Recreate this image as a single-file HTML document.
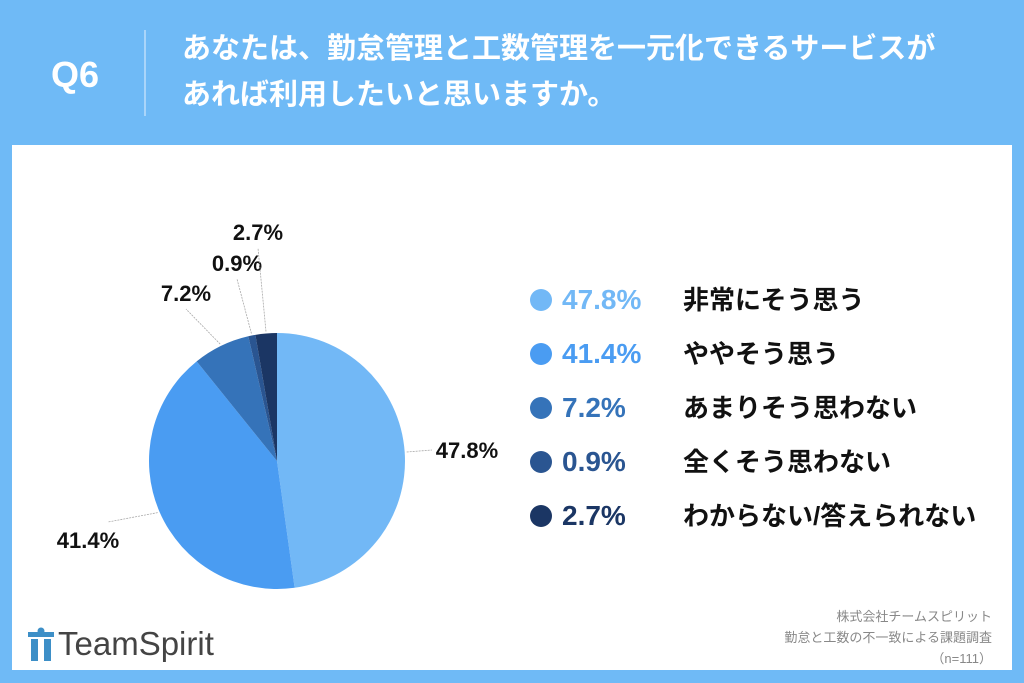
<!DOCTYPE html>
<html><head><meta charset="utf-8"><style>
body{margin:0;width:1024px;height:683px;background:#6fbaf6;font-family:"Liberation Sans","Noto Sans CJK JP",sans-serif;position:relative;overflow:hidden}
.abs{position:absolute}
#panel{left:12px;top:145px;width:1000px;height:525px;background:#fff}
.leg{left:530px;font-size:27px;font-weight:bold;height:30px;line-height:30px}
.leg .dot{position:absolute;left:0;top:4px;width:22px;height:22px;border-radius:50%}
.leg .pct{position:absolute;left:32px;font-size:28px}
.leg .lab{position:absolute;left:153px;color:#111;white-space:nowrap;font-size:26px}
</style></head><body>
<div class="abs" style="left:51px;top:54px;color:#fff;font-size:36px;font-weight:bold">Q6</div>
<div class="abs" style="left:144px;top:30px;width:2px;height:86px;background:#a9d5fa"></div>
<div class="abs" style="left:182px;top:26px;color:#fff;font-size:29px;font-weight:bold;line-height:46px;white-space:nowrap">あなたは、勤怠管理と工数管理を一元化できるサービスが<br>あれば利用したいと思いますか。</div>
<div class="abs" id="panel"></div>
<svg class="abs" style="left:0;top:0" width="1024" height="683" id="pie"></svg>
<div id="legend"></div>
<div class="abs" style="left:28px;top:624px;height:40px;display:flex;align-items:center">
<svg width="26" height="34"><rect x="0" y="5" width="26" height="5" fill="#3d8fc7"/><rect x="3" y="12" width="7" height="22" fill="#3d8fc7"/><rect x="16" y="12" width="7" height="22" fill="#3d8fc7"/><circle cx="13" cy="4" r="3.5" fill="#3d8fc7"/></svg>
<span style="font-size:33px;color:#444;margin-left:4px">TeamSpirit</span></div>
<div class="abs" style="right:32px;top:606px;text-align:right;font-size:13px;color:#888;line-height:21px">株式会社チームスピリット<br>勤怠と工数の不一致による課題調査<br>（n=111）</div>
<script>
const categories=["非常にそう思う","ややそう思う","あまりそう思わない","全くそう思わない","わからない/答えられない"];
const values=[47.8,41.4,7.2,0.9,2.7];
const colors=["#72b8f6","#4a9cf2","#3573b9","#2a5591","#1b3664"];
const cx=277,cy=461,r=128;
const svg=document.getElementById('pie');
const NS="http://www.w3.org/2000/svg";
const total=values.reduce((a,b)=>a+b,0);
let a0=0;
const labelPos=[[467,458],[88,548],[186,301],[237,271],[258,240]];
values.forEach((v,i)=>{
  const a1=a0+v/total*2*Math.PI;
  const p=(a)=>[cx+r*Math.sin(a),cy-r*Math.cos(a)];
  const [x0,y0]=p(a0),[x1,y1]=p(a1);
  const path=document.createElementNS(NS,'path');
  path.setAttribute('d',`M${cx},${cy}L${x0},${y0}A${r},${r} 0 ${a1-a0>Math.PI?1:0} 1 ${x1},${y1}Z`);
  path.setAttribute('fill',colors[i]);
  
  
  svg.appendChild(path);
  const am=(a0+a1)/2;
  const [lx,ly]=labelPos[i];
  const ex=cx+(r+2)*Math.sin(am),ey=cy-(r+2)*Math.cos(am);
  const line=document.createElementNS(NS,'line');
  line.setAttribute('x1',ex);line.setAttribute('y1',ey);
  line.setAttribute('x2',i==0?lx-35:lx+(i==1?20:0));line.setAttribute('y2',i==0?ly-8:(i==1?ly-26:ly+8));
  line.setAttribute('stroke','#aaa');line.setAttribute('stroke-width','0.8');line.setAttribute('stroke-dasharray','2,1');
  
  
  svg.appendChild(line);
  const t=document.createElementNS(NS,'text');
  t.setAttribute('x',lx);t.setAttribute('y',ly);t.setAttribute('text-anchor','middle');
  t.setAttribute('font-size','22');t.setAttribute('font-weight','bold');t.setAttribute('fill','#111');
  t.textContent=v.toFixed(1)+'%';
  
  
  svg.appendChild(t);
  a0=a1;
});
const leg=document.getElementById('legend');
categories.forEach((c,i)=>{
  const d=document.createElement('div');
  d.className='abs leg';d.style.top=(285+i*54)+'px';
  
  
  d.innerHTML=`<span class="dot" style="background:${colors[i]}"></span><span class="pct" style="color:${colors[i]}">${values[i].toFixed(1)}%</span><span class="lab">${c}</span>`;
  leg.appendChild(d);
});
</script>
</body></html>
